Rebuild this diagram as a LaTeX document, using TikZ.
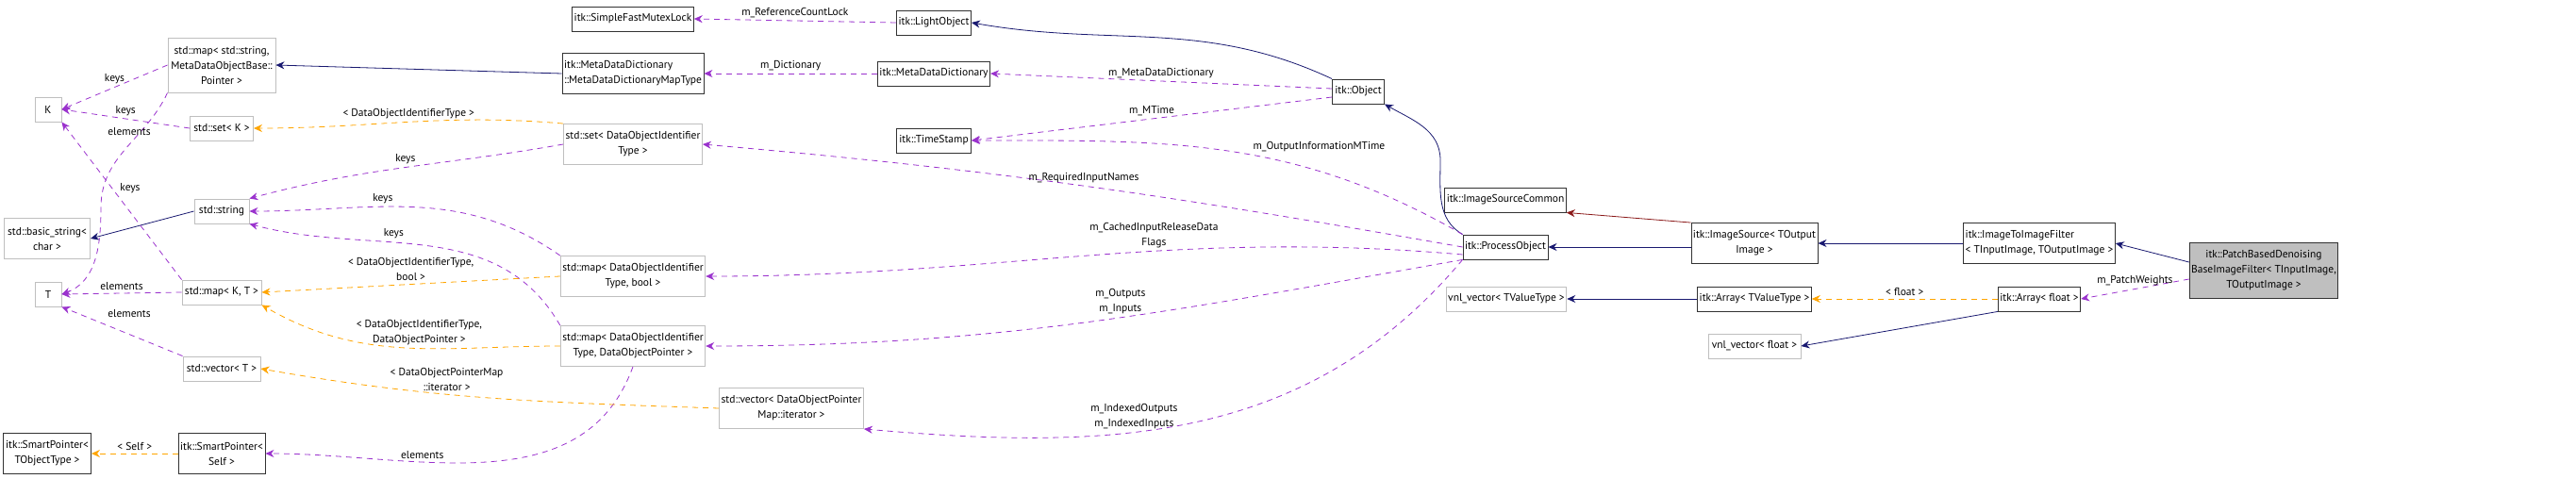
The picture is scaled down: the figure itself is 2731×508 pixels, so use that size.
\documentclass[tikz,border=0pt]{standalone}
\usepackage{fontspec}
\setmainfont{PT Sans}
\usetikzlibrary{positioning, arrows.meta}

\definecolor{edgeblue}{HTML}{191970}
\definecolor{edgered}{HTML}{8B1A1A}
\definecolor{edgepurple}{HTML}{9A32CD}
\definecolor{edgeorange}{HTML}{FFA500}
\definecolor{boxgray}{HTML}{BFBFBF}

\begin{document}
\begin{tikzpicture}[
      x=1pt, y=-1pt,
      font=\fontsize{11.5}{16}\selectfont,
      cls/.style    = {draw=black!80, line width=0.9pt, fill=white, align=center, inner sep=2pt, minimum height=26pt},
      ext/.style    = {cls, draw=boxgray},
      self/.style   = {cls, fill=boxgray},
      inherit/.style = {draw=edgeblue, line width=0.8pt, -{Stealth[length=9pt,width=8pt]}},
      inheritred/.style = {inherit, draw=edgered},
      member/.style = {draw=edgepurple, line width=0.8pt, dashed, dash pattern=on 6pt off 5pt, -{Stealth[length=9pt,width=8pt]}},
      templ/.style  = {member, draw=edgeorange},
      lbl/.style    = {align=center, inner sep=3pt}
  ]
  \useasboundingbox (0,0) rectangle (2731,508);

  % --- std / template classes (left) ---
  \node[ext, minimum width=28pt] (K) at (51,116) {K};
  \node[ext, minimum width=28pt] (T) at (51,312) {T};
  \node[ext, minimum width=91pt, minimum height=43pt] (bstr) at (50,253) {std::basic\_string\textless\\char \textgreater};
  \node[cls, minimum width=93pt, minimum height=43pt] (spT) at (50,481) {itk::SmartPointer\textless\\TObjectType \textgreater};
  \node[ext, minimum width=114pt, minimum height=58pt] (mapstr) at (235,69) {std::map\textless{} std::string,\\MetaDataObjectBase::\\Pointer \textgreater};
  \node[ext, minimum width=67pt] (setK) at (235,136) {std::set\textless{} K \textgreater};
  \node[ext, minimum width=58pt] (str) at (235,224) {std::string};
  \node[ext, minimum width=84pt] (mapKT) at (235,310) {std::map\textless{} K, T \textgreater};
  \node[ext, minimum width=82pt] (vecT) at (235,391) {std::vector\textless{} T \textgreater};
  \node[cls, minimum width=92pt, minimum height=43pt] (spSelf) at (235,481) {itk::SmartPointer\textless\\Self \textgreater};

  % --- middle column ---
  \node[cls, minimum width=125pt] (mutex) at (671,20) {itk::SimpleFastMutexLock};
  \node[cls, minimum width=148pt, minimum height=43pt, align=left] (dictmap) at (671,78) {itk::MetaDataDictionary\\::MetaDataDictionaryMapType};
  \node[ext, minimum width=144pt, minimum height=43pt] (setDOI) at (671,153) {std::set\textless{} DataObjectIdentifier\\Type \textgreater};
  \node[ext, minimum width=150pt, minimum height=43pt] (mapbool) at (671,293) {std::map\textless{} DataObjectIdentifier\\Type, bool \textgreater};
  \node[ext, minimum width=150pt, minimum height=43pt] (mapDOP) at (671,367) {std::map\textless{} DataObjectIdentifier\\Type, DataObjectPointer \textgreater};
  \node[ext, minimum width=148pt, minimum height=43pt] (vecit) at (839,433) {std::vector\textless{} DataObjectPointer\\Map::iterator \textgreater};
  \node[cls, minimum width=79pt] (light) at (990,24) {itk::LightObject};
  \node[cls, minimum width=117pt] (dict) at (990,78) {itk::MetaDataDictionary};
  \node[cls, minimum width=79pt] (tstamp) at (990,149) {itk::TimeStamp};

  % --- right part ---
  \node[cls, minimum width=55pt] (obj) at (1440,97) {itk::Object};
  \node[cls, minimum width=121pt] (isc) at (1596,212) {itk::ImageSourceCommon};
  \node[cls, minimum width=87pt] (proc) at (1596,262) {itk::ProcessObject};
  \node[ext, minimum width=116pt] (vnlT) at (1597,317) {vnl\_vector\textless{} TValueType \textgreater};
  \node[cls, minimum width=133pt, minimum height=43pt] (isrc) at (1860,258) {itk::ImageSource\textless{} TOutput\\Image \textgreater};
  \node[cls, minimum width=120pt] (arrT) at (1860,317) {itk::Array\textless{} TValueType \textgreater};
  \node[ext, minimum width=98pt] (vnlf) at (1860,367) {vnl\_vector\textless{} float \textgreater};
  \node[cls, minimum width=141pt, minimum height=43pt, align=left] (i2i) at (2162,258) {itk::ImageToImageFilter\\\textless{} TInputImage, TOutputImage \textgreater};
  \node[cls, minimum width=79pt] (arrf) at (2162,317) {itk::Array\textless{} float \textgreater};
  \node[self, minimum width=138pt, minimum height=59pt] (pbd) at (2400,287) {itk::PatchBasedDenoising\\BaseImageFilter\textless{} TInputImage,\\TOutputImage \textgreater};

  % --- inheritance ---
  \draw[inherit] (dictmap.west) -- (mapstr.east);
  \draw[inherit] (str.west) -- (bstr.east);
  \draw[inherit] (obj.north west) to[out=155,in=-10] (light.east);
  \draw[inherit] (proc.north west) to[out=150,in=-90] (1527,170) to[out=90,in=-30] (obj.south east);
  \draw[inherit] (isrc.west |- proc.east) -- (proc.east);
  \draw[inheritred] (isrc.north west) -- (isc.south east);
  \draw[inherit] (i2i.west) -- (isrc.east);
  \draw[inherit] (pbd.west |- 2331,278) -- (i2i.east);
  \draw[inherit] (arrT.west) -- (vnlT.east);
  \draw[inherit] (arrf.south west) -- (vnlf.east);

  % --- members (left) ---
  \draw[member] (mapstr.west) -- node[lbl, above] {keys} (K.east);
  \draw[member] (setK.west) -- node[lbl, above] {keys} (K.east);
  \draw[member] (mapKT.north west) -- (K.south east);
  \node[lbl] (keyslbl) at (138,200) {keys};
  \draw[member] (mapstr.south west) to[out=-115,in=90] (107,220) to[out=-90,in=20] (T.east);
  \node[lbl] (elemlbl) at (137,140) {elements};
  \draw[member] (mapKT.west) -- node[lbl, above] {elements} (T.east);
  \draw[member] (vecT.north west) -- (T.south east);
  \node[lbl] (elemlbl2) at (137,333) {elements};
  \draw[member] (setDOI.west) to[out=190,in=15] node[lbl, above] {keys} (str.north east);
  \draw[member] (mapbool.north west) to[out=145,in=0] node[lbl, above, pos=0.6] {keys} (str.east);
  \draw[member] (mapDOP.north west) to[out=120,in=-15] node[lbl, above, pos=0.6] {keys} (str.south east);
  \draw[member] (mapDOP.south) to[out=-110,in=0] node[lbl, above, pos=0.65] {elements} (spSelf.east);

  % --- template arguments ---
  \draw[templ] (setDOI.north west) to[out=175,in=0] node[lbl, above] {\textless{} DataObjectIdentifierType \textgreater} (setK.east);
  \draw[templ] (mapbool.west) -- node[lbl, above] {\textless{} DataObjectIdentifierType,\\bool \textgreater} (mapKT.east);
  \draw[templ] (mapDOP.west) to[out=180,in=-30] node[lbl, above, pos=0.45] {\textless{} DataObjectIdentifierType,\\DataObjectPointer \textgreater} (mapKT.south east);
  \draw[templ] (vecit.west) to[out=178,in=-10] node[lbl, above, pos=0.6] {\textless{} DataObjectPointerMap\\::iterator \textgreater} (vecT.east);
  \draw[templ] (spSelf.west) -- node[lbl, above] {\textless{} Self \textgreater} (spT.east);
  \draw[templ] (arrf.west) -- node[lbl, above] {\textless{} float \textgreater} (arrT.east);

  % --- members (middle / right) ---
  \draw[member] (light.west) -- node[lbl, above] {m\_ReferenceCountLock} (mutex.east);
  \draw[member] (dict.west) -- node[lbl, above] {m\_Dictionary} (dictmap.east);
  \draw[member] (obj.west |- 1413,94) -- node[lbl, above] {m\_MetaDataDictionary} (dict.east);
  \draw[member] (obj.west |- 1413,103) -- node[lbl, above] {m\_MTime} (tstamp.east);
  \draw[member] (proc.north west) to[out=150,in=0] node[lbl, above right, pos=0.45] {m\_OutputInformationMTime} (tstamp.east);
  \draw[member] (proc.west) to[out=170,in=-5] node[lbl, above, pos=0.5] {m\_RequiredInputNames} (setDOI.east);
  \draw[member] (proc.west |- 1553,270) to[out=175,in=0] node[lbl, above, pos=0.4] {m\_CachedInputReleaseData\\Flags} (mapbool.east);
  \draw[member] (proc.south west) to[out=190,in=0] node[lbl, above, pos=0.45] {m\_Outputs\\m\_Inputs} (mapDOP.east);
  \draw[member] (proc.south west) to[out=-130,in=-5] node[lbl, above, pos=0.6] {m\_IndexedOutputs\\m\_IndexedInputs} (vecit.south east);
  \draw[member] (pbd.west |- 2331,296) -- node[lbl, above] {m\_PatchWeights} (arrf.east);

\end{tikzpicture}
\end{document}
